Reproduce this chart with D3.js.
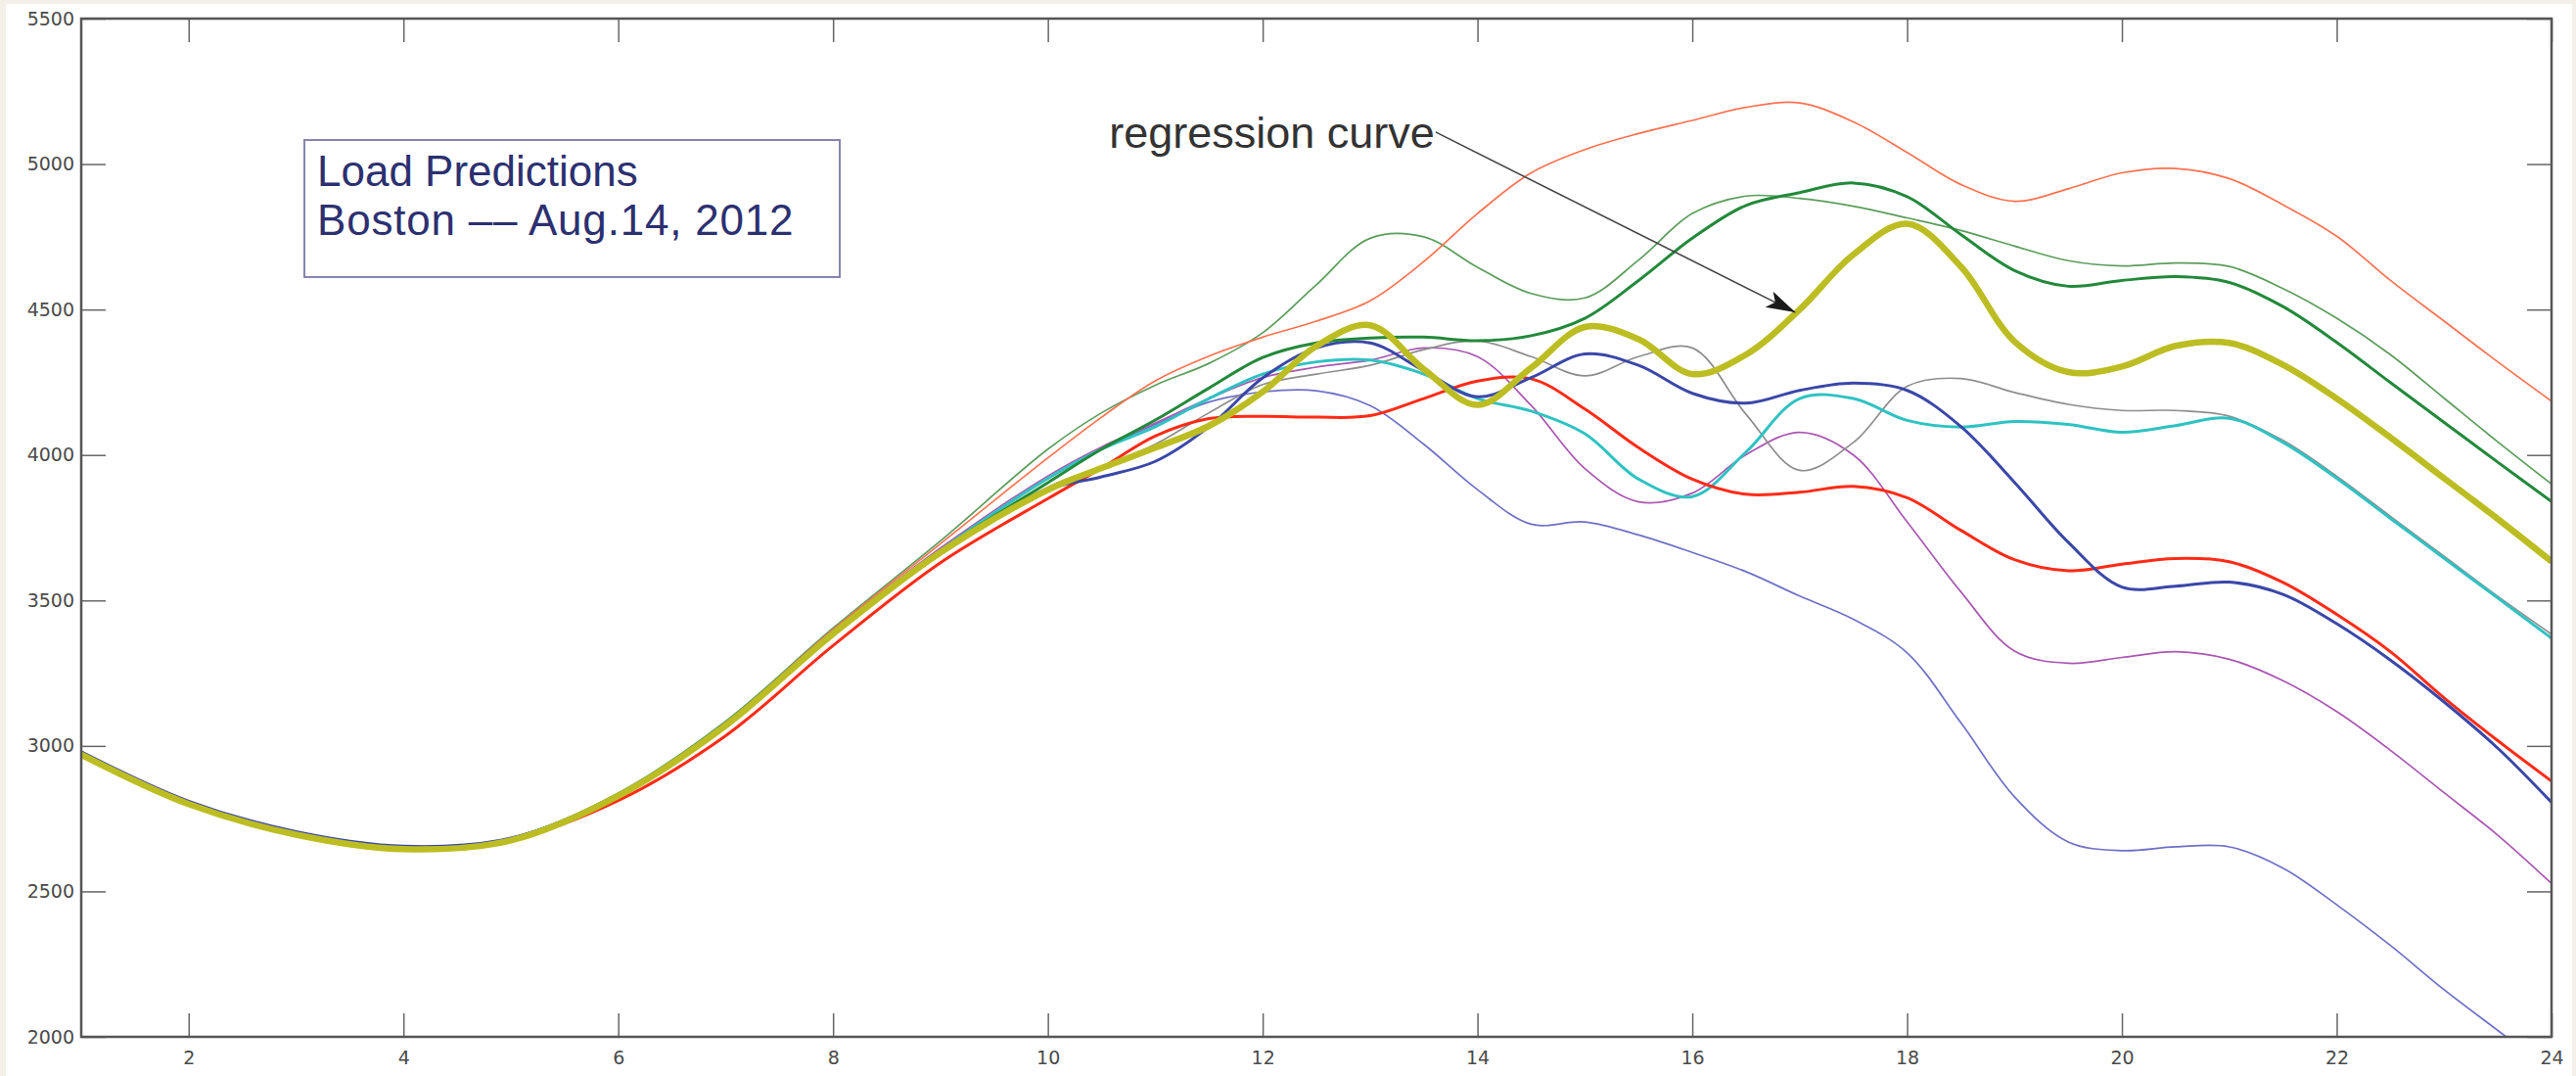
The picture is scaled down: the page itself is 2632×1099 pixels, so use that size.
<html>
<head>
	<title>Load Predictions</title>
	<style>
		body { margin: 0; background: #f3f0e9; }
	</style>
</head>
<body>
	<div id="chart"></div>
	<script src="https://cdn.jsdelivr.net/npm/d3@7"></script>
	<script>
	// hours of the day (hourly first, then half hours where the curves wiggle)
	var hours = [1, 2, 3, 4, 5, 6, 7, 8, 9, 10, 10.5, 11, 11.5, 12, 12.5, 13, 13.5, 14, 14.5, 15, 15.5, 16,
		16.5, 17, 17.5, 18, 18.5, 19, 19.5, 20, 20.5, 21, 21.5, 22, 22.5, 23, 23.5, 24];

	var lightBlue = [2976, 2806, 2701, 2651, 2682, 2834, 3077, 3393, 3675, 3918, 4020, 4105, 4182, 4217, 4221, 4170, 4037, 3881, 3762, 3770, 3725, 3665, 3599, 3515, 3435, 3320, 3080, 2825, 2670, 2640, 2653, 2653, 2580, 2454, 2314, 2162, 2022, 1883];
	var purple = [2976, 2806, 2701, 2651, 2682, 2835, 3078, 3395, 3680, 3928, 4028, 4110, 4194, 4266, 4302, 4326, 4368, 4338, 4170, 3953, 3839, 3869, 4001, 4078, 4000, 3770, 3530, 3326, 3284, 3304, 3324, 3298, 3224, 3118, 2985, 2839, 2693, 2527];
	var gray = [2975, 2805, 2700, 2650, 2681, 2833, 3075, 3390, 3668, 3890, 3960, 4037, 4145, 4242, 4278, 4308, 4362, 4392, 4338, 4272, 4338, 4368, 4140, 3947, 4043, 4236, 4263, 4215, 4174, 4153, 4153, 4133, 4050, 3927, 3789, 3652, 3514, 3384];
	var thinGreen = [2975, 2805, 2700, 2650, 2682, 2838, 3085, 3405, 3705, 4020, 4145, 4240, 4315, 4420, 4585, 4745, 4750, 4645, 4555, 4540, 4670, 4830, 4890, 4882, 4855, 4815, 4772, 4718, 4668, 4650, 4660, 4648, 4572, 4470, 4345, 4195, 4045, 3900];
	var orange = [2975, 2805, 2700, 2652, 2682, 2835, 3080, 3400, 3695, 3990, 4130, 4255, 4340, 4405, 4460, 4530, 4665, 4830, 4970, 5050, 5105, 5150, 5195, 5210, 5145, 5040, 4930, 4872, 4915, 4970, 4985, 4950, 4860, 4752, 4600, 4460, 4320, 4185];
	var cyan = [2975, 2805, 2700, 2650, 2681, 2834, 3076, 3392, 3672, 3920, 4020, 4097, 4194, 4278, 4320, 4326, 4278, 4194, 4151, 4073, 3917, 3857, 4010, 4194, 4194, 4119, 4096, 4115, 4105, 4078, 4101, 4126, 4043, 3920, 3782, 3645, 3508, 3370];
	var red = [2977, 2808, 2703, 2653, 2678, 2812, 3035, 3345, 3630, 3850, 3955, 4065, 4125, 4133, 4130, 4135, 4194, 4254, 4262, 4158, 4025, 3917, 3865, 3872, 3892, 3853, 3741, 3640, 3602, 3625, 3644, 3633, 3562, 3452, 3324, 3165, 3018, 2879];
	var blue = [2980, 2810, 2705, 2655, 2683, 2832, 3070, 3385, 3660, 3880, 3925, 3978, 4097, 4265, 4368, 4385, 4290, 4200, 4266, 4347, 4308, 4212, 4178, 4222, 4247, 4222, 4098, 3906, 3700, 3546, 3549, 3563, 3521, 3420, 3295, 3151, 2992, 2806];
	var darkGreen = [2972, 2802, 2697, 2647, 2677, 2830, 3072, 3390, 3670, 3905, 4020, 4120, 4230, 4335, 4385, 4402, 4405, 4393, 4410, 4470, 4600, 4745, 4858, 4902, 4935, 4888, 4758, 4634, 4580, 4600, 4613, 4593, 4510, 4387, 4249, 4112, 3975, 3840];
	var regression = [2970, 2800, 2695, 2645, 2675, 2828, 3070, 3385, 3665, 3880, 3955, 4025, 4100, 4217, 4374, 4446, 4295, 4172, 4300, 4440, 4398, 4278, 4345, 4500, 4689, 4795, 4648, 4390, 4285, 4304, 4375, 4385, 4310, 4194, 4060, 3920, 3780, 3634];

	var xTicks = [2, 4, 6, 8, 10, 12, 14, 16, 18, 20, 22, 24];
	var yTicks = [2000, 2500, 3000, 3500, 4000, 4500, 5000, 5500];

	var titleLines = ["Load Predictions", "Boston \u2013\u2013 Aug.14, 2012"];
	// label position and arrow, in data units
	var noteLabel = "regression curve";
	var noteAt = [10.57, 5056];
	var noteFrom = [13.61, 5110];
	var noteTo = [16.96, 4490];

	// drawing order, thin ones below the thick ones
	var lines = [
		{ values: lightBlue, color: "#6f70c6", width: 1.7 },
		{ values: purple, color: "#a957b1", width: 1.7 },
		{ values: gray, color: "#8e8e8e", width: 1.7 },
		{ values: thinGreen, color: "#5c9d5c", width: 1.7 },
		{ values: orange, color: "#ff7150", width: 1.7 },
		{ values: cyan, color: "#2fc2c2", width: 3 },
		{ values: red, color: "#ff2b16", width: 3 },
		{ values: blue, color: "#3a47a8", width: 3 },
		{ values: darkGreen, color: "#23893b", width: 3 },
		{ values: regression, color: "#bcbd22", width: 6.5 }
	];

	var width = 2632, height = 1099;
	var plotLeft = 83, plotRight = 2607, plotTop = 19, plotBottom = 1059;

	var svg = d3.select("#chart").append("svg")
		.attr("width", width)
		.attr("height", height);

	svg.append("rect").attr("width", width).attr("height", height).attr("fill", "#f3f0e9");
	svg.append("rect").attr("x", 6).attr("y", 4).attr("width", 2622).attr("height", height - 4).attr("fill", "white");

	var x = d3.scaleLinear().domain([1, 24]).range([plotLeft, plotRight]);
	var y = d3.scaleLinear().domain([2000, 5500]).range([plotBottom, plotTop]);

	svg.append("clipPath").attr("id", "plotclip")
		.append("rect")
		.attr("x", plotLeft).attr("y", plotTop)
		.attr("width", plotRight - plotLeft).attr("height", plotBottom - plotTop);

	// axes, ticks point inward on all four sides
	function styleAxis(g) {
		g.select(".domain").remove();
		g.selectAll(".tick line").attr("stroke", "#666").attr("stroke-width", 1.5);
		g.selectAll(".tick text")
			.attr("fill", "#4a4a4a")
			.attr("font-family", "DejaVu Sans, sans-serif")
			.attr("font-size", 19);
	}

	svg.append("g")
		.attr("transform", "translate(0," + plotBottom + ")")
		.call(d3.axisBottom(x).tickValues(xTicks).tickSize(-24).tickPadding(15))
		.call(styleAxis);

	svg.append("g")
		.attr("transform", "translate(0," + plotTop + ")")
		.call(d3.axisTop(x).tickValues(xTicks).tickSize(-24).tickFormat(""))
		.call(styleAxis);

	svg.append("g")
		.attr("transform", "translate(" + plotLeft + ",0)")
		.call(d3.axisLeft(y).tickValues(yTicks).tickFormat(d3.format("d")).tickSize(-25).tickPadding(7))
		.call(styleAxis);

	svg.append("g")
		.attr("transform", "translate(" + plotRight + ",0)")
		.call(d3.axisRight(y).tickValues(yTicks).tickSize(-25).tickFormat(""))
		.call(styleAxis);

	// the curves
	var line = d3.line()
		.x(function(d, i) { return x(hours[i]); })
		.y(function(d) { return y(d); })
		.curve(d3.curveCatmullRom.alpha(0.5));

	svg.append("g")
		.attr("clip-path", "url(#plotclip)")
		.selectAll("path")
		.data(lines)
		.enter().append("path")
		.attr("d", function(d) { return line(d.values); })
		.attr("fill", "none")
		.attr("stroke", function(d) { return d.color; })
		.attr("stroke-width", function(d) { return d.width; })
		.attr("stroke-linejoin", "round");

	// plot frame
	svg.append("rect")
		.attr("x", plotLeft).attr("y", plotTop)
		.attr("width", plotRight - plotLeft).attr("height", plotBottom - plotTop)
		.attr("fill", "none")
		.attr("stroke", "#555")
		.attr("stroke-width", 2.5);

	// title box
	var titleBox = svg.append("g").attr("transform", "translate(" + (plotLeft + 228) + "," + (plotTop + 124) + ")");
	titleBox.append("rect")
		.attr("width", 547).attr("height", 140)
		.attr("fill", "white")
		.attr("stroke", "#8585ae")
		.attr("stroke-width", 2);
	titleBox.selectAll("text")
		.data(titleLines)
		.enter().append("text")
		.attr("x", 13)
		.attr("y", function(d, i) { return 47 + i * 50; })
		.attr("font-family", "Liberation Sans, Arial, sans-serif")
		.attr("font-size", 44)
		.attr("letter-spacing", function(d, i) { return i ? 0.8 : 0; })
		.attr("fill", "#2c3070")
		.text(function(d) { return d; });

	// annotation arrow
	svg.append("defs").append("marker")
		.attr("id", "head")
		.attr("markerUnits", "userSpaceOnUse")
		.attr("markerWidth", 32).attr("markerHeight", 20)
		.attr("refX", 30).attr("refY", 10)
		.attr("orient", "auto")
		.append("path")
		.attr("d", "M0,1 L30,10 L0,19 L7,10 Z")
		.attr("fill", "#1a1a1a");

	svg.append("line")
		.attr("x1", x(noteFrom[0])).attr("y1", y(noteFrom[1]))
		.attr("x2", x(noteTo[0])).attr("y2", y(noteTo[1]))
		.attr("stroke", "#444")
		.attr("stroke-width", 1.6)
		.attr("marker-end", "url(#head)");

	svg.append("text")
		.attr("x", x(noteAt[0])).attr("y", y(noteAt[1]))
		.attr("font-family", "Liberation Sans, Arial, sans-serif")
		.attr("font-size", 45)
		.attr("fill", "#333")
		.text(noteLabel);
	</script>
</body>
</html>
